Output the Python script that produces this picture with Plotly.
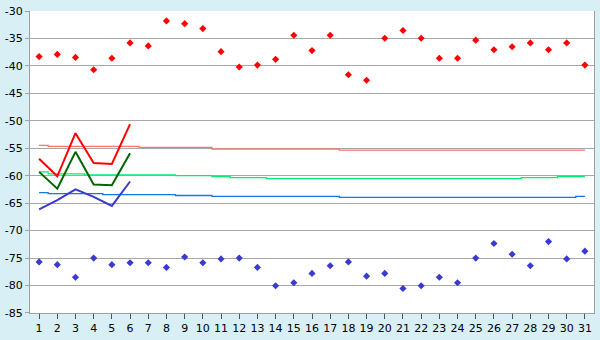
import plotly.graph_objects as go

days = list(range(1, 32))
day_labels = [str(d) for d in days]

red_points = [-38.3, -37.9, -38.45, -40.7, -38.6, -35.8, -36.35, -31.8, -32.3, -33.2,
              -37.4, -40.2, -39.85, -38.8, -34.4, -37.2, -34.4, -41.6, -42.6, -34.95,
              -33.55, -34.95, -38.6, -38.6, -35.3, -37.05, -36.5, -35.8, -37.05, -35.8, -39.85]
blue_points = [-75.7, -76.2, -78.5, -75.0, -76.2, -75.85, -75.85, -76.7, -74.8, -75.85,
               -75.15, -75.0, -76.7, -80.05, -79.5, -77.8, -76.4, -75.7, -78.3, -77.8,
               -80.55, -80.05, -78.5, -79.5, -75.0, -72.35, -74.3, -76.4, -72.0, -75.15, -73.75]

week_days = [1, 2, 3, 4, 5, 6]
red_line = [-56.9, -60.1, -52.25, -57.7, -57.85, -50.6]
green_line = [-59.3, -62.35, -55.65, -61.6, -61.75, -55.9]
blue_line = [-66.15, -64.45, -62.5, -63.85, -65.5, -61.05]

pink_avg = [-54.48] + [-54.65] * 5 + [-54.83] * 4 + [-55.17] * 7 + [-55.35] * 14
green_avg = ([-59.3] + [-59.65] * 2 + [-59.83] * 5 + [-60.0] * 2 + [-60.17]
             + [-60.35] * 2 + [-60.52] * 14 + [-60.35] * 2 + [-60.17] * 2)
blue_avg = ([-63.08] + [-63.25] * 3 + [-63.43] * 4 + [-63.6] * 2 + [-63.78] * 7
            + [-63.95] * 13 + [-63.78])

y_ticks = [-30, -35, -40, -45, -50, -55, -60, -65, -70, -75, -80, -85]
y_tick_text = ["-30", "-35", "-40", "-45", "-50", "-55", "-60", "-65", "-70", "-75", "-80", "-85"]

fig = go.Figure()

fig.add_trace(go.Scatter(x=days, y=pink_avg, mode="lines", line=dict(color="#ff7070", width=1.3, shape="hvh")))
fig.add_trace(go.Scatter(x=days, y=green_avg, mode="lines", line=dict(color="#00ee70", width=1.3, shape="hvh")))
fig.add_trace(go.Scatter(x=days, y=blue_avg, mode="lines", line=dict(color="#1078e8", width=1.3, shape="hvh")))

fig.add_trace(go.Scatter(x=week_days, y=red_line, mode="lines", line=dict(color="#ff0000", width=2)))
fig.add_trace(go.Scatter(x=week_days, y=green_line, mode="lines", line=dict(color="#006400", width=2)))
fig.add_trace(go.Scatter(x=week_days, y=blue_line, mode="lines", line=dict(color="#3a3ad0", width=2)))

fig.add_trace(go.Scatter(x=days, y=red_points, mode="markers",
                         marker=dict(symbol="diamond", size=5.5, color="#ff0000")))
fig.add_trace(go.Scatter(x=days, y=blue_points, mode="markers",
                         marker=dict(symbol="diamond", size=5.5, color="#3a3ad0")))

fig.update_layout(
    width=600, height=340,
    margin=dict(l=26, r=5, t=5, b=20),
    paper_bgcolor="#d9eff6",
    plot_bgcolor="#ffffff",
    showlegend=False,
    font=dict(family="DejaVu Sans", size=11, color="#000000"),
)
fig.update_xaxes(
    range=[0.5, 31.5], tickmode="array", tickvals=days, ticktext=day_labels,
    showgrid=False, zeroline=False, showline=True, linecolor="#a0a0a0", linewidth=1,
    mirror=False, ticks="outside", ticklen=5, tickcolor="#505050",
    tickfont=dict(size=11, family="DejaVu Sans"),
)
fig.update_yaxes(
    range=[-85.01, -29.99], tickmode="array", tickvals=y_ticks, ticktext=y_tick_text,
    showgrid=True, gridcolor="#a8a8a8", gridwidth=1, zeroline=False,
    showline=True, linecolor="#a0a0a0", linewidth=1, mirror=True,
    ticks="outside", ticklen=4, tickcolor="#a0a0a0",
    tickfont=dict(size=11, family="DejaVu Sans"),
    ticklabeloverflow="allow",
)

fig.write_html("out.html")
